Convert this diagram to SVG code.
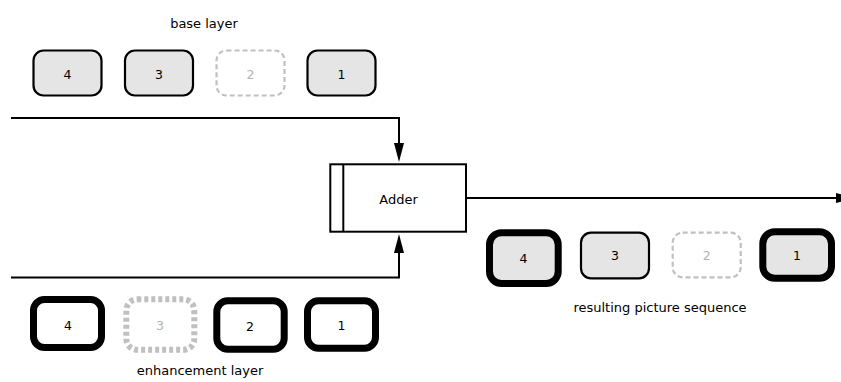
<svg xmlns="http://www.w3.org/2000/svg" width="841" height="382" viewBox="0 0 841 382">
<defs>
<style>
text{font-family:"DejaVu Sans","Liberation Sans",sans-serif;font-size:13px;fill:#000;text-anchor:middle}
.num{font-size:12.5px}
.ghost{fill:#b4b4b4}
.thin{fill:#e5e5e5;stroke:#000;stroke-width:2.2}
.thick{fill:#fff;stroke:#000;stroke-width:7}
.thickg{fill:#e5e5e5;stroke:#000;stroke-width:7}
.dash{fill:none;stroke:#c0c0c0;stroke-width:2.2;stroke-dasharray:5 3}
.dashw{fill:none;stroke:#c0c0c0;stroke-width:6;stroke-dasharray:4 3}
.conn{fill:none;stroke:#000;stroke-width:2;marker-end:url(#arr)}
</style>
<marker id="arr" markerUnits="userSpaceOnUse" markerWidth="20" markerHeight="12" refX="0" refY="5" orient="auto" overflow="visible">
<path d="M0,0 L19,5 L0,10 Z" fill="#000"/>
</marker>
</defs>
<rect width="841" height="382" fill="#fff"/>

<g id="connectors">
<path class="conn" d="M11,118 H399 V143"/>
<path class="conn" d="M11,277.5 H399 V253"/>
<path class="conn" d="M466,198 H836"/>
</g>

<g id="adder">
<rect x="330.3" y="164.3" width="135.7" height="67.4" fill="#fff" stroke="#000" stroke-width="2"/>
<line x1="343.3" y1="164.3" x2="343.3" y2="231.7" stroke="#000" stroke-width="2"/>
<text x="398.5" y="203.5">Adder</text>
</g>

<g id="base-layer">
<text x="204" y="27.5">base layer</text>
<g id="base-4"><rect class="thin" x="33.5" y="50.5" width="68" height="45" rx="10"/><text class="num" x="67.5" y="78.5">4</text></g>
<g id="base-3"><rect class="thin" x="125" y="50.5" width="68" height="45" rx="10"/><text class="num" x="159" y="78.5">3</text></g>
<g id="base-2"><rect class="dash" x="216.5" y="50.5" width="68" height="45" rx="10"/><text class="num ghost" x="250.5" y="78.5">2</text></g>
<g id="base-1"><rect class="thin" x="307.5" y="50.5" width="68" height="45" rx="10"/><text class="num" x="341.5" y="78.5">1</text></g>
</g>

<g id="enhancement-layer">
<text x="200" y="375">enhancement layer</text>
<g id="enh-4"><rect class="thick" x="33.5" y="299.5" width="68" height="48" rx="11"/><text class="num" x="68" y="329.5">4</text></g>
<g id="enh-3"><rect class="dashw" x="126.3" y="299.3" width="68" height="50.5" rx="11"/><text class="num ghost" x="160" y="330">3</text></g>
<g id="enh-2"><rect class="thick" x="216.8" y="300.8" width="67.4" height="48.4" rx="11"/><text class="num" x="250" y="330.5">2</text></g>
<g id="enh-1"><rect class="thick" x="307.5" y="300.8" width="68" height="47.4" rx="11"/><text class="num" x="341.5" y="330">1</text></g>
</g>

<g id="result-sequence">
<text x="660" y="312">resulting picture sequence</text>
<g id="res-4"><rect class="thickg" x="489.5" y="232.8" width="68.7" height="50.7" rx="12"/><text class="num" x="523.5" y="263">4</text></g>
<g id="res-3"><rect class="thin" x="581" y="232.7" width="68" height="45.6" rx="10"/><text class="num" x="615" y="260">3</text></g>
<g id="res-2"><rect class="dash" x="672.7" y="232.7" width="68" height="44.6" rx="10"/><text class="num ghost" x="706.7" y="260">2</text></g>
<g id="res-1"><rect class="thickg" x="762.8" y="231.8" width="68.7" height="46.4" rx="12"/><text class="num" x="797" y="260">1</text></g>
</g>
</svg>
